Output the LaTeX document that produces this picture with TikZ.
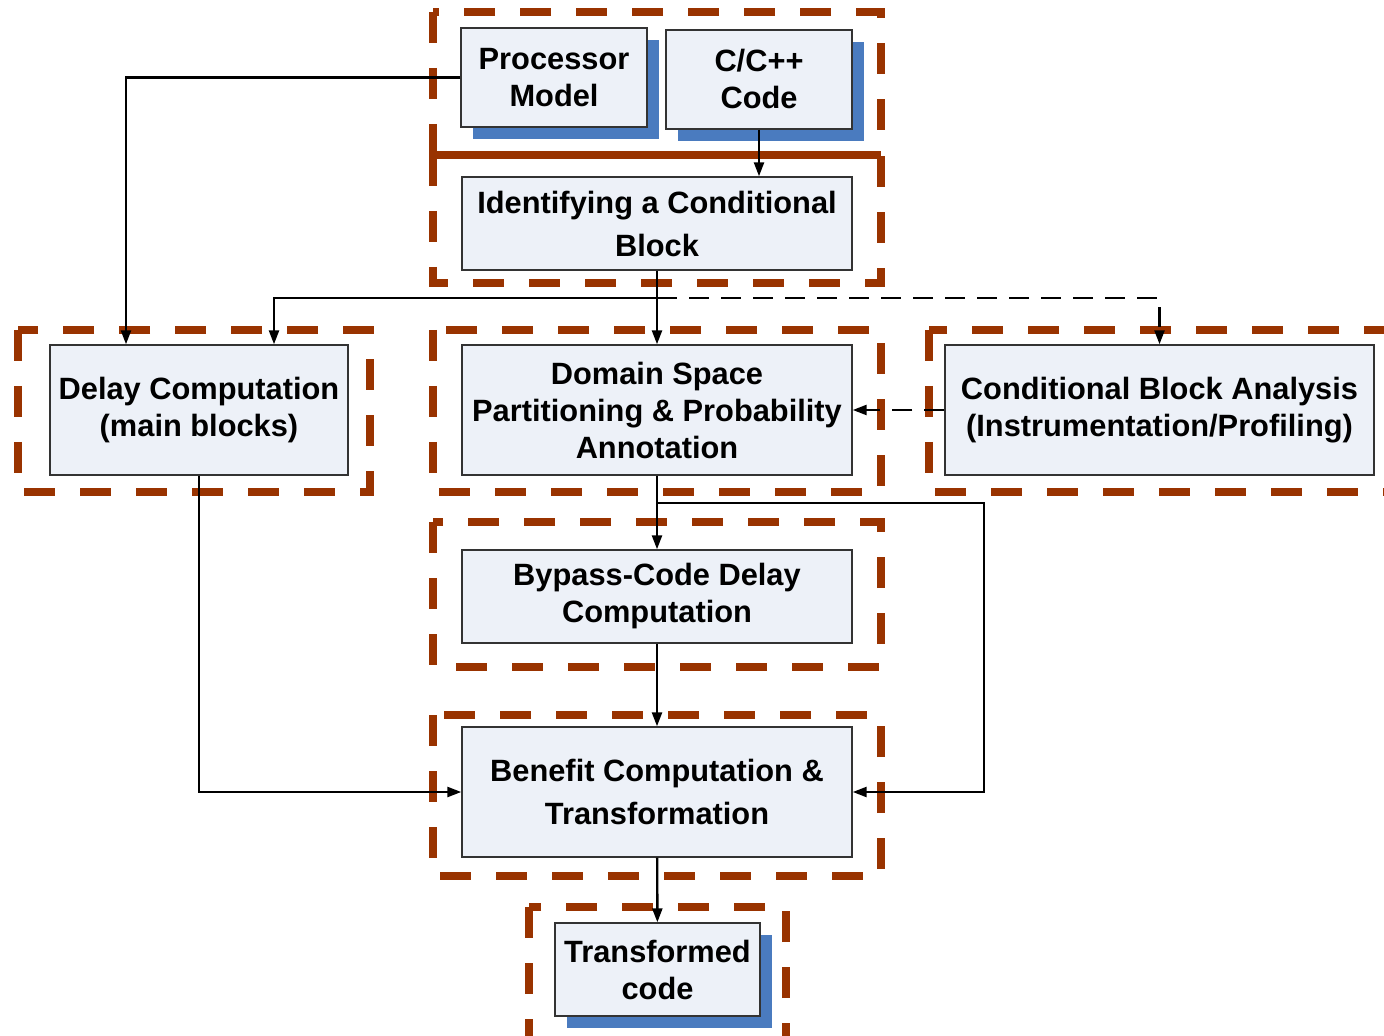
\documentclass[tikz,border=0pt]{standalone}
\usepackage{fontspec}
\usepackage{tikz}
\setmainfont{Liberation Sans}
\usetikzlibrary{calc}
\usetikzlibrary{arrows.meta}
\usetikzlibrary{shadows}
\definecolor{framebrown}{HTML}{993300}
\definecolor{boxfill}{HTML}{EDF1F8}
\definecolor{shadowblue}{HTML}{4A7BBF}

\begin{document}
\begin{tikzpicture}[x=0.5pt, y=-0.5pt,
	every node/.style={font=\fontsize{15.4}{18.5}\selectfont\bfseries, align=center},
	block/.style={draw=black!80, line width=0.7pt, fill=boxfill, inner sep=0pt},
	shadowed/.style={block, general shadow={fill=shadowblue, shadow xshift=6pt, shadow yshift=-6pt}},
	frame/.style={draw=framebrown, line width=4pt, dash pattern=on 15.5pt off 12.5pt},
	conn/.style={line width=1.2pt, -{Triangle[length=7pt, width=5pt]}}]
	\useasboundingbox (0,0) rectangle (1384,1036);

	\foreach \xa/\ya/\xb/\yb in {433/12/881/155, 433/155/881/283, 18/330/370/492, 433/330/881/492,
		929/330/1392/492, 433/522/881/667, 433/715/881/876, 529/907/786/1048}
	\draw[frame] (\xa,\ya) rectangle (\xb,\yb);
	\draw[frame, solid] (433,155) -- (881,155);

	\node[shadowed, minimum width=93pt, minimum height=49.5pt] (procmodel) at (554,77.5) {Processor\\Model};
	\node[shadowed, minimum width=93pt, minimum height=49.5pt] (srccode) at (759,79.5) {C/C++\\Code};
	\node[block, minimum width=195pt, minimum height=46.5pt] (identify) at (657,223.5) {Identifying a Conditional\\[3pt]Block};
	\node[block, minimum width=149pt, minimum height=65pt] (delay) at (199,410) {Delay Computation\\(main blocks)};
	\node[block, minimum width=195pt, minimum height=65pt] (domain) at (657,410) {Domain Space\\Partitioning \& Probability\\Annotation};
	\node[block, minimum width=214.5pt, minimum height=65pt] (analysis) at (1159.5,410) {Conditional Block Analysis\\(Instrumentation/Profiling)};
	\node[block, minimum width=195pt, minimum height=46.5pt] (bypass) at (657,596.5) {Bypass-Code Delay\\Computation};
	\node[block, minimum width=195pt, minimum height=65pt] (benefit) at (657,792) {Benefit Computation \&\\[3pt]Transformation};
	\node[shadowed, minimum width=102.5pt, minimum height=46.5pt] (transformed) at (657.5,969.5) {Transformed\\code};

	\coordinate (split) at (657,298);
	\coordinate (split2) at (657,503);

	\draw[conn] (procmodel.west) -| ([xshift=-36.5pt]delay.north);
	\draw[conn] (srccode.south) -- (srccode.south |- identify.north);
	\draw[conn] (identify) -- (domain);
	\draw[conn] (split) -| ([xshift=37.5pt]delay.north);
	\draw[conn, dash pattern=on 10pt off 6pt] (split) -| (analysis.north);
	\draw[conn, dash pattern=on 10pt off 6pt] (analysis.west) -- (domain.east);
	\draw[conn] (domain) -- (bypass);
	\draw[conn] (split2) -| ([xshift=65.5pt]benefit.east) -- (benefit.east);
	\draw[conn] (bypass) -- (benefit);
	\draw[conn] (delay.south) |- (benefit.west);
	\draw[conn] (benefit) -- (transformed);
\end{tikzpicture}
\end{document}
